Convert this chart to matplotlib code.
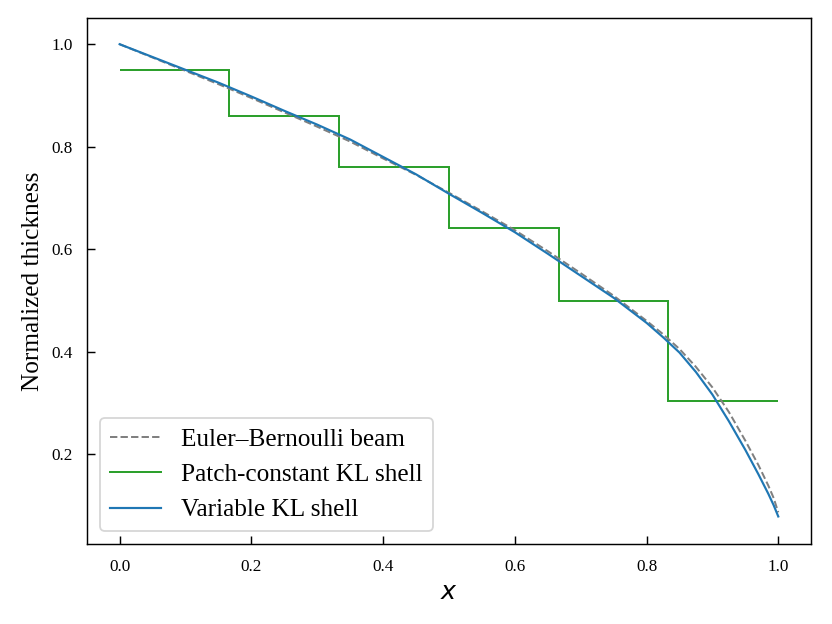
import matplotlib

matplotlib.use("Agg")

import matplotlib.pyplot as plt

plt.rcParams["font.family"] = ["Liberation Serif", "DejaVu Serif"]
plt.rcParams["mathtext.fontset"] = "dejavusans"

# positions along the beam (normalized)
x_pts = [0.0, 0.05, 0.1, 0.15, 0.2, 0.25, 0.3, 0.35, 0.4, 0.45, 0.5, 0.55,
         0.6, 0.65, 0.7, 0.75, 0.8, 0.825, 0.85, 0.875, 0.9, 0.925, 0.95,
         0.97, 0.985, 0.993, 1.0]

# Euler-Bernoulli reference thickness
beam_h = [1.000, 0.974, 0.948, 0.922, 0.895, 0.867, 0.839, 0.810, 0.777, 0.745,
          0.710, 0.674, 0.637, 0.596, 0.553, 0.509, 0.460, 0.434, 0.405, 0.370,
          0.330, 0.282, 0.226, 0.178, 0.138, 0.114, 0.086]

# variable-thickness KL shell
var_h = [1.000, 0.975, 0.950, 0.925, 0.898, 0.870, 0.843, 0.814, 0.780, 0.746,
         0.708, 0.671, 0.633, 0.591, 0.548, 0.505, 0.456, 0.428, 0.398, 0.360,
         0.316, 0.264, 0.208, 0.160, 0.122, 0.100, 0.078]

# patch-constant KL shell (6 patches)
patch_edges = [0.0, 1 / 6, 2 / 6, 3 / 6, 4 / 6, 5 / 6, 1.0]
patch_h = [0.950, 0.859, 0.760, 0.641, 0.499, 0.304]

fig, ax = plt.subplots(figsize=(6.4, 4.8), dpi=130)
fig.subplots_adjust(left=0.105, right=0.975, top=0.971, bottom=0.128)

ax.plot(x_pts, beam_h, "--", color="gray", lw=1.1, label="Euler–Bernoulli beam")
ax.stairs(patch_h, patch_edges, color="tab:green", lw=1.1, baseline=None,
          label="Patch-constant KL shell")
ax.plot(x_pts, var_h, color="tab:blue", lw=1.2, label="Variable KL shell")

ax.set_xlim(-0.049, 1.050)
ax.set_ylim(0.024, 1.051)
ax.set_xticks([0.0, 0.2, 0.4, 0.6, 0.8, 1.0])
ax.set_yticks([0.2, 0.4, 0.6, 0.8, 1.0])
ax.tick_params(direction="in", length=4.5, labelsize=9.5, pad=8)
ax.set_xlabel("$x$", fontsize=14)
ax.set_ylabel("Normalized thickness", fontsize=14)
ax.legend(loc="lower left", fontsize=14)

fig.savefig("out.png", dpi=130)
